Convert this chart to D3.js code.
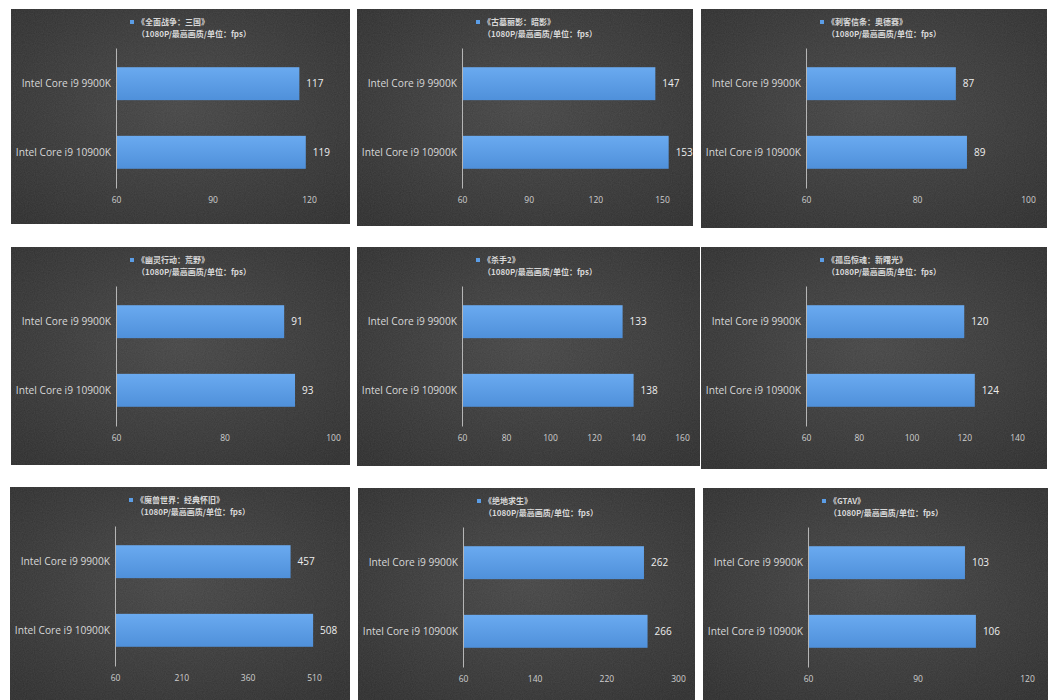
<!DOCTYPE html>
<html>
<head>
<meta charset="utf-8">
<script src="https://cdn.jsdelivr.net/npm/d3@7"></script>
<style>
  html, body { margin: 0; padding: 0; background: #fff; }
  svg { display: block; }
</style>
</head>
<body>
<svg id="chart" width="1052" height="700"></svg>
<script>
// data
const games = ['《全面战争：三国》', '《古墓丽影：暗影》', '《刺客信条：奥德赛》',
    '《幽灵行动：荒野》', '《杀手2》', '《孤岛惊魂：新曙光》',
    '《魔兽世界：经典怀旧》', '《绝地求生》', '《GTAV》'];
const subtitle = '（1080P/最高画质/单位：fps）';
const cpus = ['Intel Core i9 9900K', 'Intel Core i9 10900K'];
const fps9900 = [117, 147, 87, 91, 133, 120, 457, 262, 103];
const fps10900 = [119, 153, 89, 93, 138, 124, 508, 266, 106];
const tickLabels = [
    [60, 90, 120],
    [60, 90, 120, 150],
    [60, 80, 100],
    [60, 80, 100],
    [60, 80, 100, 120, 140, 160],
    [60, 80, 100, 120, 140],
    [60, 210, 360, 510],
    [60, 140, 220, 300],
    [60, 90, 120]
];

// panel boxes (layout only)
const panels = [
    { x: 11, y: 9, w: 339, h: 215, end: 298 },
    { x: 357, y: 9, w: 336, h: 217, end: 305 },
    { x: 701, y: 9, w: 346, h: 219, end: 327 },
    { x: 11, y: 247, w: 339, h: 218, end: 322 },
    { x: 357, y: 247, w: 343, h: 219, end: 325 },
    { x: 701, y: 247, w: 346, h: 222, end: 316 },
    { x: 10, y: 487, w: 340, h: 213, end: 304 },
    { x: 358, y: 488, w: 337, h: 212, end: 320 },
    { x: 703, y: 488, w: 345, h: 212, end: 324 }
];

const axisOffset = 105;
const barColor = '#5b9de6';

const svg = d3.select('#chart');
const defs = svg.append('defs');

const bg = defs.append('radialGradient').attr('id', 'bg')
    .attr('cx', '50%').attr('cy', '45%').attr('r', '70%');
bg.append('stop').attr('offset', '0%').attr('stop-color', '#454545');
bg.append('stop').attr('offset', '100%').attr('stop-color', '#2e2e2e');

const barGrad = defs.append('linearGradient').attr('id', 'bar')
    .attr('x1', 0).attr('y1', 0).attr('x2', 0).attr('y2', 1);
barGrad.append('stop').attr('offset', '0%').attr('stop-color', '#6aaaf0');
barGrad.append('stop').attr('offset', '100%').attr('stop-color', '#4f90da');

const noise = defs.append('filter').attr('id', 'noise')
    .attr('x', 0).attr('y', 0).attr('width', '100%').attr('height', '100%');
noise.append('feTurbulence').attr('type', 'fractalNoise')
    .attr('baseFrequency', 0.9).attr('numOctaves', 2).attr('result', 'n');
noise.append('feColorMatrix').attr('type', 'matrix')
    .attr('values', '0 0 0 0 1  0 0 0 0 1  0 0 0 0 1  0 0 0 0.09 0');

panels.forEach((p, i) => {
    const g = svg.append('g').attr('transform', `translate(${p.x},${p.y})`);

    g.append('rect').attr('width', p.w).attr('height', p.h).attr('fill', 'url(#bg)');
    g.append('rect').attr('width', p.w).attr('height', p.h).attr('filter', 'url(#noise)');

    const ticks = tickLabels[i];
    const x = d3.scaleLinear()
        .domain([ticks[0], ticks[ticks.length - 1]])
        .range([axisOffset, p.end]);
    const y = d3.scaleBand()
        .domain(cpus)
        .range([39, 179])
        .paddingInner(0.52)
        .paddingOuter(0.28);

    const values = [fps9900[i], fps10900[i]];

    // legend + two-line title
    g.append('rect')
        .attr('x', 119).attr('y', 11)
        .attr('width', 4).attr('height', 4)
        .attr('fill', barColor);
    const title = g.append('g')
        .style('font-family', '"Noto Sans CJK SC", sans-serif')
        .style('font-size', '8px')
        .style('font-weight', 'bold')
        .style('fill', '#d8d8d8');
    title.append('text').attr('x', 126).attr('y', 16.3).text(games[i]);
    title.append('text').attr('x', 126).attr('y', 28.2).text(subtitle);

    // bars
    g.selectAll('rect.bar')
        .data(values)
        .enter()
        .append('rect')
        .attr('class', 'bar')
        .attr('x', x(ticks[0]))
        .attr('y', (d, j) => y(cpus[j]))
        .attr('width', d => x(d) - x(ticks[0]))
        .attr('height', y.bandwidth())
        .attr('fill', 'url(#bar)');

    g.selectAll('text.val')
        .data(values)
        .enter()
        .append('text')
        .attr('class', 'val')
        .attr('x', d => x(d) + 7)
        .attr('y', (d, j) => y(cpus[j]) + y.bandwidth() / 2)
        .attr('dy', '0.35em')
        .text(d => d)
        .style('font-family', '"Open Sans", sans-serif')
        .style('font-size', '10px')
        .style('fill', '#eeeeee');

    // category axis
    const yAxis = g.append('g')
        .attr('transform', `translate(${axisOffset},0)`)
        .call(d3.axisLeft(y).tickSize(0).tickPadding(5));
    yAxis.select('.domain').attr('stroke', '#b5b5b5');
    yAxis.selectAll('text')
        .style('font-family', '"Open Sans", sans-serif')
        .style('font-size', '10.2px')
        .style('fill', '#d8d8d8');

    // value axis (labels only)
    const xAxis = g.append('g')
        .attr('transform', 'translate(0,185)')
        .call(d3.axisBottom(x).tickValues(ticks).tickSize(0).tickPadding(3));
    xAxis.select('.domain').remove();
    xAxis.selectAll('text')
        .style('font-family', '"Open Sans", sans-serif')
        .style('font-size', '8.5px')
        .style('fill', '#cfcfcf');
});
</script>
</body>
</html>
